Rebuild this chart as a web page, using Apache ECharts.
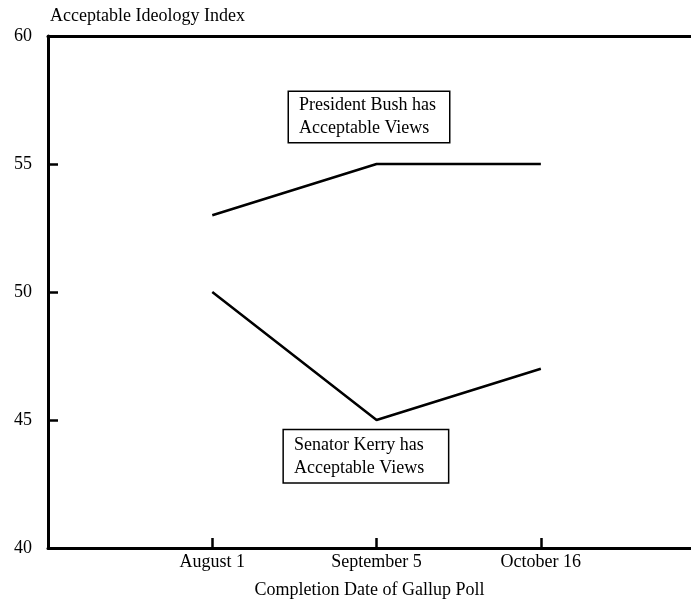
<!DOCTYPE html>
<html>
<head>
<meta charset="utf-8">
<script src="https://cdn.jsdelivr.net/npm/echarts@6/dist/echarts.min.js"></script>
<style>html,body{margin:0;padding:0;background:#fff}#c{width:691px;height:599px}</style>
</head>
<body>
<div id="c"></div>
<script>
const categories = ['August 1', 'September 5', 'October 16'];
const bushValues = [53, 55, 55];
const kerryValues = [50, 45, 47];
const yTicks = [40, 45, 50, 55, 60];
const bushNote = 'President Bush has\nAcceptable Views';
const kerryNote = 'Senator Kerry has\nAcceptable Views';

const FONT = '"Liberation Serif", "Times New Roman", serif';
const toPairs = vals => vals.map((v, i) => [i + 1, v]);
const X_MAX = 3.914; // plot is cut at the right edge of the picture

const chart = echarts.init(document.getElementById('c'));
chart.setOption({
  animation: false,
  backgroundColor: '#fff',
  textStyle: { fontFamily: FONT, color: '#000' },
  grid: { left: 48, top: 36, right: 0, bottom: 51, show: false, containLabel: false, outerBoundsMode: 'none' },
  xAxis: [
    {
      type: 'value', min: 0, max: X_MAX, interval: 1,
      name: 'Completion Date of Gallup Poll', nameLocation: 'middle', nameGap: 33,
      nameTextStyle: { fontFamily: FONT, fontSize: 18, color: '#000' },
      axisLine: { show: true, lineStyle: { color: '#000', width: 3 } },
      axisTick: { show: true, inside: true, length: 10, lineStyle: { color: '#000', width: 2.5 } },
      axisLabel: {
        fontFamily: FONT, fontSize: 18, color: '#000', margin: 5, showMaxLabel: false,
        formatter: v => (Number.isInteger(v) && v >= 1 && v <= categories.length) ? categories[v - 1] : ''
      },
      splitLine: { show: false }
    },
    {
      type: 'value', position: 'top', min: 0, max: X_MAX,
      axisLine: { show: true, onZero: false, lineStyle: { color: '#000', width: 3 } },
      axisTick: { show: false }, axisLabel: { show: false }, splitLine: { show: false }
    }
  ],
  yAxis: {
    type: 'value', min: yTicks[0], max: yTicks[yTicks.length - 1], interval: 5,
    name: 'Acceptable Ideology Index', nameLocation: 'end', nameGap: 11,
    nameTextStyle: { fontFamily: FONT, fontSize: 18, color: '#000', align: 'left', padding: [0, 0, 0, 2] },
    axisLine: { show: true, lineStyle: { color: '#000', width: 3 } },
    axisTick: { show: true, inside: true, length: 10, lineStyle: { color: '#000', width: 2.5 } },
    axisLabel: { fontFamily: FONT, fontSize: 18, color: '#000', margin: 16 },
    splitLine: { show: false }
  },
  series: [
    {
      type: 'line', data: toPairs(bushValues), showSymbol: false, symbol: 'none',
      lineStyle: { color: '#000', width: 2.5 },
      markPoint: {
        symbol: 'rect', symbolSize: 0,
        data: [{ coord: [1.467, 56.84], value: bushNote }],
        label: {
          show: true, position: 'inside', formatter: bushNote,
          fontFamily: FONT, fontSize: 18, color: '#000', lineHeight: 23,
          align: 'left', verticalAlign: 'middle',
          width: 149, padding: [2, 1, 2, 10],
          borderColor: '#000', borderWidth: 1.5, backgroundColor: '#fff'
        }
      }
    },
    {
      type: 'line', data: toPairs(kerryValues), showSymbol: false, symbol: 'none',
      lineStyle: { color: '#000', width: 2.5 },
      markPoint: {
        symbol: 'rect', symbolSize: 0,
        data: [{ coord: [1.436, 43.58], value: kerryNote }],
        label: {
          show: true, position: 'inside', formatter: kerryNote,
          fontFamily: FONT, fontSize: 18, color: '#000', lineHeight: 23,
          align: 'left', verticalAlign: 'middle',
          width: 153, padding: [3, 1, 3, 10],
          borderColor: '#000', borderWidth: 1.5, backgroundColor: '#fff'
        }
      }
    }
  ]
});
</script>
</body>
</html>
